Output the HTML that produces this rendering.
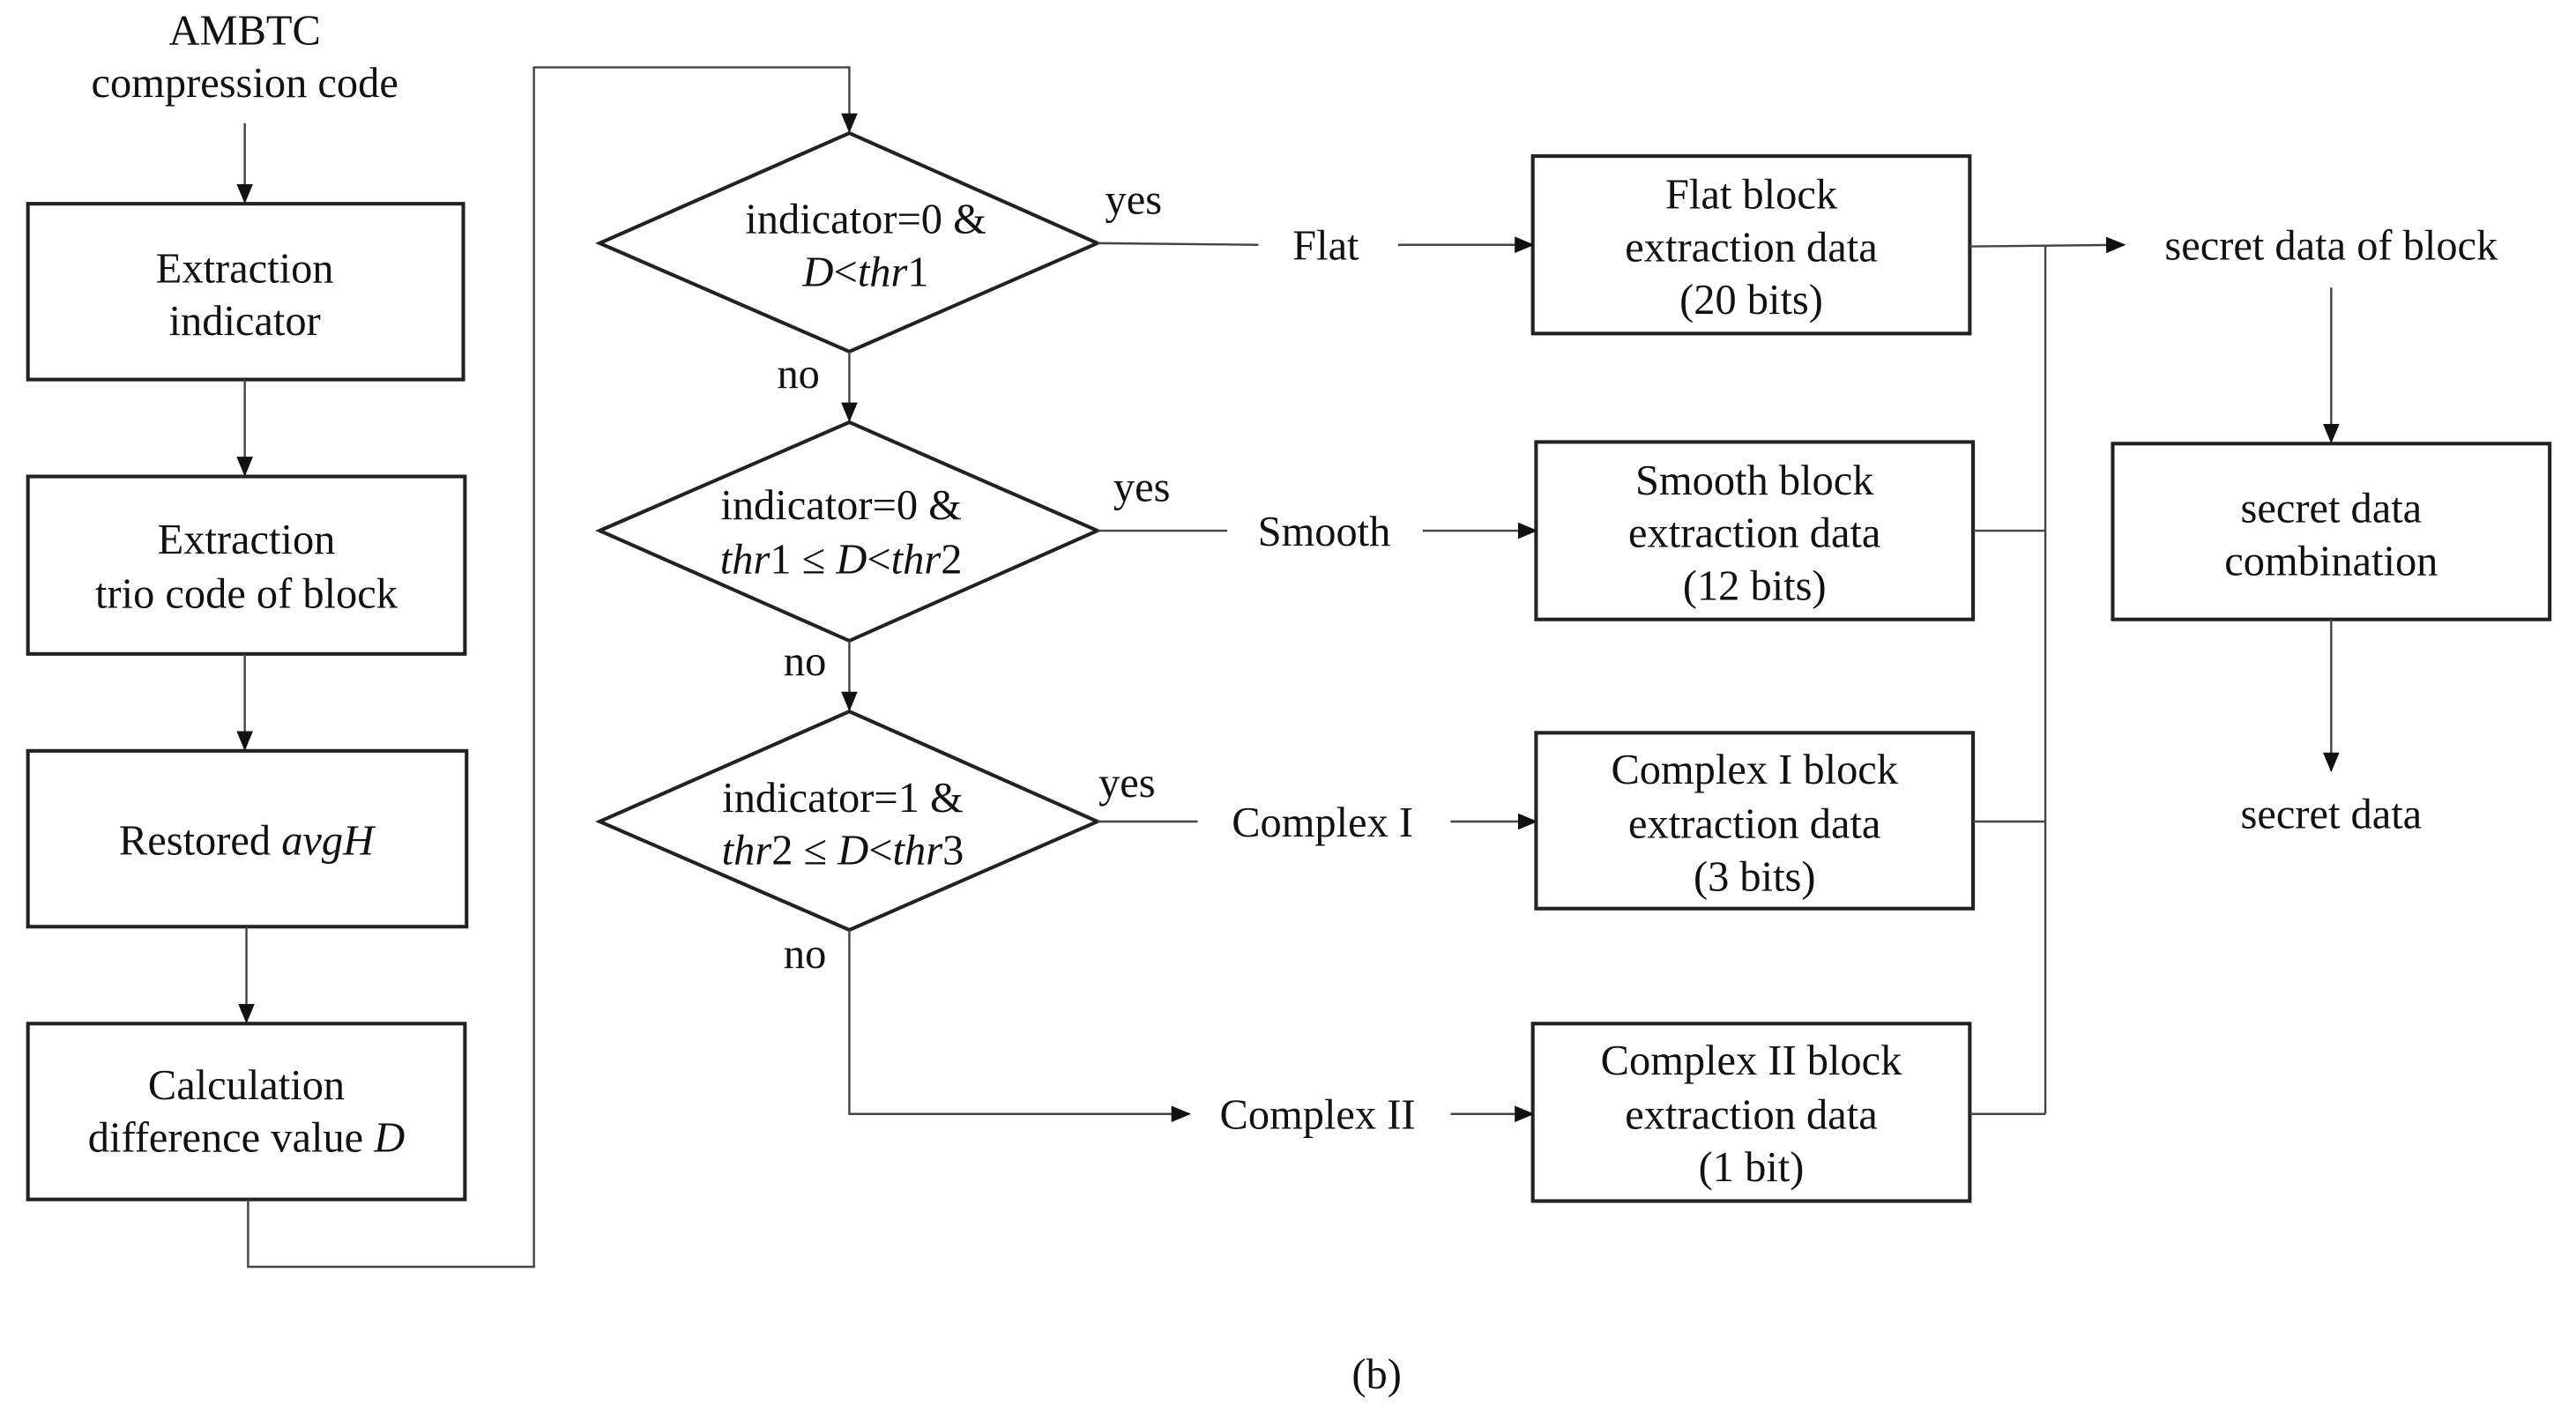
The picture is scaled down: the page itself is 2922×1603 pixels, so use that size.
<!DOCTYPE html>
<html><head><meta charset="utf-8"><style>
html,body{margin:0;padding:0;background:#fff;}
svg{display:block;}
text{font-family:"Liberation Serif","DejaVu Serif",serif;font-size:26px;fill:#111;text-anchor:middle;}
.i{font-style:italic;}
</style></head><body>
<svg width="2922" height="1603" viewBox="0 0 1568 860" preserveAspectRatio="none" xmlns="http://www.w3.org/2000/svg">
<defs><marker id="a" markerWidth="12" markerHeight="10" refX="11" refY="5" orient="auto" markerUnits="userSpaceOnUse"><path d="M0,0 L12,5 L0,10 Z" fill="#111"/></marker></defs>
<g fill="none" stroke="#222" stroke-width="2.2">
<rect x="17" y="124" width="265" height="107"/>
<rect x="17" y="290" width="266" height="108"/>
<rect x="17" y="457" width="267" height="107"/>
<rect x="17" y="623" width="266" height="107"/>
<polygon points="365,148 517,81 668,148 517,214"/>
<polygon points="365,323 517,257 668,323 517,390"/>
<polygon points="365,500 517,433 668,500 517,566"/>
<rect x="933" y="95" width="266" height="108"/>
<rect x="935" y="269" width="266" height="108"/>
<rect x="935" y="446" width="266" height="107"/>
<rect x="933" y="623" width="266" height="108"/>
<rect x="1286" y="270" width="266" height="107"/>
</g>
<g fill="none" stroke="#444" stroke-width="1.3">
<line x1="149" y1="75" x2="149" y2="123" marker-end="url(#a)"/>
<line x1="149" y1="231" x2="149" y2="289" marker-end="url(#a)"/>
<line x1="149" y1="398" x2="149" y2="456" marker-end="url(#a)"/>
<line x1="150" y1="564" x2="150" y2="622" marker-end="url(#a)"/>
<polyline points="151,730 151,771 325,771 325,41 517,41 517,80" marker-end="url(#a)"/>
<line x1="517" y1="214" x2="517" y2="256" marker-end="url(#a)"/>
<line x1="517" y1="390" x2="517" y2="432" marker-end="url(#a)"/>
<polyline points="517,566 517,678 724,678" marker-end="url(#a)"/>
<line x1="668" y1="148" x2="766" y2="149"/>
<line x1="851" y1="149" x2="933" y2="149" marker-end="url(#a)"/>
<line x1="668" y1="323" x2="747" y2="323"/>
<line x1="866" y1="323" x2="935" y2="323" marker-end="url(#a)"/>
<line x1="668" y1="500" x2="729" y2="500"/>
<line x1="883" y1="500" x2="935" y2="500" marker-end="url(#a)"/>
<line x1="883" y1="678" x2="933" y2="678" marker-end="url(#a)"/>
<line x1="1199" y1="150" x2="1293" y2="149" marker-end="url(#a)"/>
<line x1="1245" y1="150" x2="1245" y2="678"/>
<line x1="1201" y1="323" x2="1245" y2="323"/>
<line x1="1201" y1="500" x2="1245" y2="500"/>
<line x1="1199" y1="678" x2="1245" y2="678"/>
<line x1="1419" y1="175" x2="1419" y2="269" marker-end="url(#a)"/>
<line x1="1419" y1="377" x2="1419" y2="469" marker-end="url(#a)"/>
</g>
<text x="149" y="27">AMBTC</text>
<text x="149" y="59">compression code</text>
<text x="149" y="172">Extraction</text>
<text x="149" y="204">indicator</text>
<text x="150" y="337">Extraction</text>
<text x="150" y="370">trio code of block</text>
<text x="150" y="520">Restored <tspan class="i">avgH</tspan></text>
<text x="150" y="669">Calculation</text>
<text x="150" y="701">difference value <tspan class="i">D</tspan></text>
<text x="527" y="142">indicator=0 &amp;</text>
<text x="527" y="174"><tspan class="i">D</tspan>&lt;<tspan class="i">thr</tspan>1</text>
<text x="512" y="316">indicator=0 &amp;</text>
<text x="512" y="349"><tspan class="i">thr</tspan>1 ≤ <tspan class="i">D</tspan>&lt;<tspan class="i">thr</tspan>2</text>
<text x="513" y="494">indicator=1 &amp;</text>
<text x="513" y="526"><tspan class="i">thr</tspan>2 ≤ <tspan class="i">D</tspan>&lt;<tspan class="i">thr</tspan>3</text>
<text x="486" y="236">no</text>
<text x="490" y="411">no</text>
<text x="490" y="589">no</text>
<text x="690" y="130">yes</text>
<text x="695" y="305">yes</text>
<text x="686" y="485">yes</text>
<text x="807" y="158">Flat</text>
<text x="806" y="332">Smooth</text>
<text x="805" y="509">Complex I</text>
<text x="802" y="687">Complex II</text>
<text x="1066" y="127">Flat block</text>
<text x="1066" y="159">extraction data</text>
<text x="1066" y="191">(20 bits)</text>
<text x="1068" y="301">Smooth block</text>
<text x="1068" y="333">extraction data</text>
<text x="1068" y="365">(12 bits)</text>
<text x="1068" y="477">Complex I block</text>
<text x="1068" y="510">extraction data</text>
<text x="1068" y="542">(3 bits)</text>
<text x="1066" y="654">Complex II block</text>
<text x="1066" y="687">extraction data</text>
<text x="1066" y="719">(1 bit)</text>
<text x="1419" y="158">secret data of block</text>
<text x="1419" y="318">secret data</text>
<text x="1419" y="350">combination</text>
<text x="1419" y="504">secret data</text>
<text x="838" y="845">(b)</text>
</svg>
</body></html>
